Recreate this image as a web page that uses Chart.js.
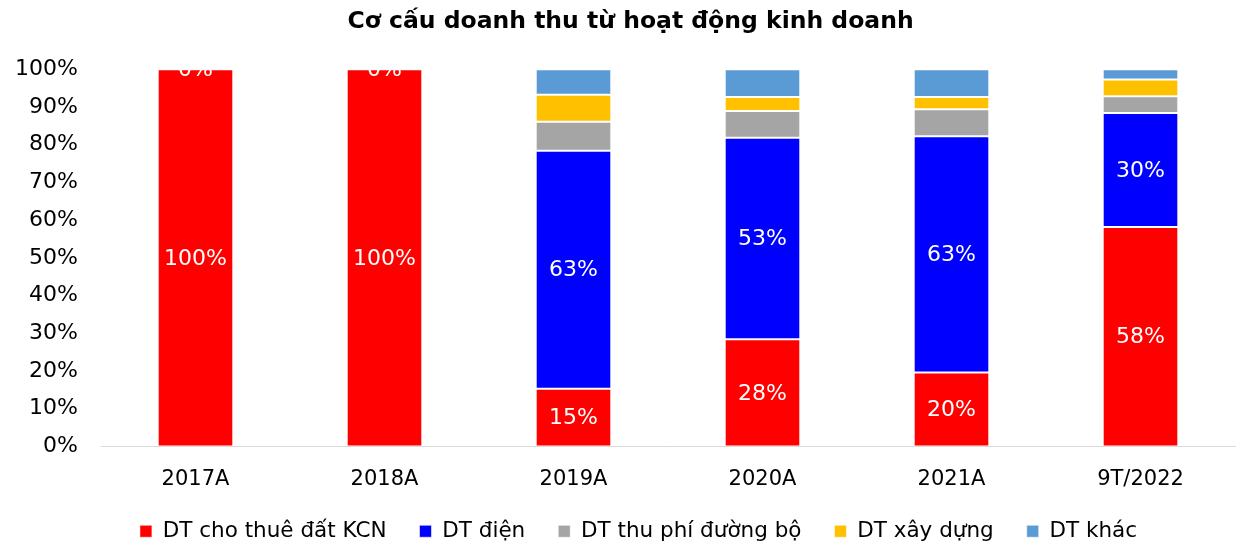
<!DOCTYPE html>
<html>
<head>
<meta charset="utf-8">
<script src="https://cdn.jsdelivr.net/npm/chart.js@4"></script>
<style>
  html, body { margin: 0; padding: 0; background: #fff; }
  #wrap { width: 1243px; height: 545px; }
</style>
</head>
<body>
<div id="wrap"><canvas id="chart"></canvas></div>
<script>
// số liệu cơ cấu doanh thu (%)
const categories = ['2017A', '2018A', '2019A', '2020A', '2021A', '9T/2022'];
const seriesNames = ['DT cho thuê đất KCN', 'DT điện', 'DT thu phí đường bộ', 'DT xây dựng', 'DT khác'];
const landLease = [100, 100, 15.3, 28.4, 19.6, 58.2];
const power = [0, 0, 63.1, 53.4, 62.6, 30.2];
const tollFee = [0, 0, 7.7, 7.1, 7.2, 4.4];
const construction = [0, 0, 7.1, 3.7, 3.2, 4.5];
const other = [0, 0, 6.8, 7.4, 7.4, 2.7];
const yTicks = [0, 10, 20, 30, 40, 50, 60, 70, 80, 90, 100];

const colors = ['#ff0000', '#0000ff', '#a5a5a5', '#ffc000', '#5b9bd5'];
const FONT = 'DejaVu Sans';

// nhãn % trắng cho 2 chuỗi đầu
const barLabels = {
    id: 'barLabels',
    afterDatasetsDraw(chart) {
        const ctx = chart.ctx;
        ctx.save();
        ctx.fillStyle = '#ffffff';
        ctx.font = '22px "' + FONT + '"';
        ctx.textAlign = 'center';
        ctx.textBaseline = 'middle';
        [0, 1].forEach(di => {
            const meta = chart.getDatasetMeta(di);
            meta.data.forEach((bar, i) => {
                const v = chart.data.datasets[di].data[i];
                const y = (bar.y + bar.base) / 2;
                ctx.fillText(Math.round(v) + '%', bar.x, y + 1);
            });
        });
        ctx.restore();
    }
};

// dịch tiêu đề / chú giải sang phải một chút như bản gốc
const nudge = {
    id: 'nudge',
    afterLayout(chart) {
        const t = chart.titleBlock;
        t.left += 13; t.right += 13;
        const l = chart.legend;
        l.left += 21; l.right += 21;
    }
};

const data = [landLease, power, tollFee, construction, other];

new Chart(document.getElementById('chart'), {
    type: 'bar',
    data: {
        labels: categories,
        datasets: data.map((d, i) => ({
            label: seriesNames[i],
            data: d,
            backgroundColor: colors[i],
            borderColor: 'rgba(255,255,255,0.55)',
            borderWidth: 1,
            borderSkipped: false,
            barPercentage: 0.8,
            categoryPercentage: 0.5,
        })),
    },
    options: {
        responsive: true,
        maintainAspectRatio: false,
        animation: false,
        layout: { padding: { left: 0, right: 8, top: 8, bottom: -7 } },
        plugins: {
            title: {
                display: true,
                text: 'Cơ cấu doanh thu từ hoạt động kinh doanh',
                color: '#000',
                font: { family: FONT, size: 23.5, weight: 'bold' },
                padding: { top: 0, bottom: 33 },
            },
            legend: {
                position: 'bottom',
                labels: {
                    color: '#000',
                    font: { family: FONT, size: 21.5 },
                    boxWidth: 12,
                    boxHeight: 12,
                    padding: 33,
                },
            },
            tooltip: { enabled: false },
        },
        scales: {
            x: {
                stacked: true,
                grid: { display: false },
                border: { display: true, color: '#d9d9d9', width: 1 },
                afterFit: s => { s.height = 41; },
                ticks: { color: '#000', font: { family: FONT, size: 21 }, padding: 12 },
            },
            y: {
                stacked: true,
                min: 0,
                max: 100,
                grid: { display: false },
                border: { display: false },
                afterBuildTicks: s => { s.ticks = yTicks.map(v => ({ value: v })); },
                afterFit: s => { s.width = 101; },
                ticks: {
                    color: '#000',
                    font: { family: FONT, size: 22 },
                    padding: 15,
                    callback: v => v + '%',
                },
            },
        },
    },
    plugins: [barLabels, nudge],
});
</script>
</body>
</html>
